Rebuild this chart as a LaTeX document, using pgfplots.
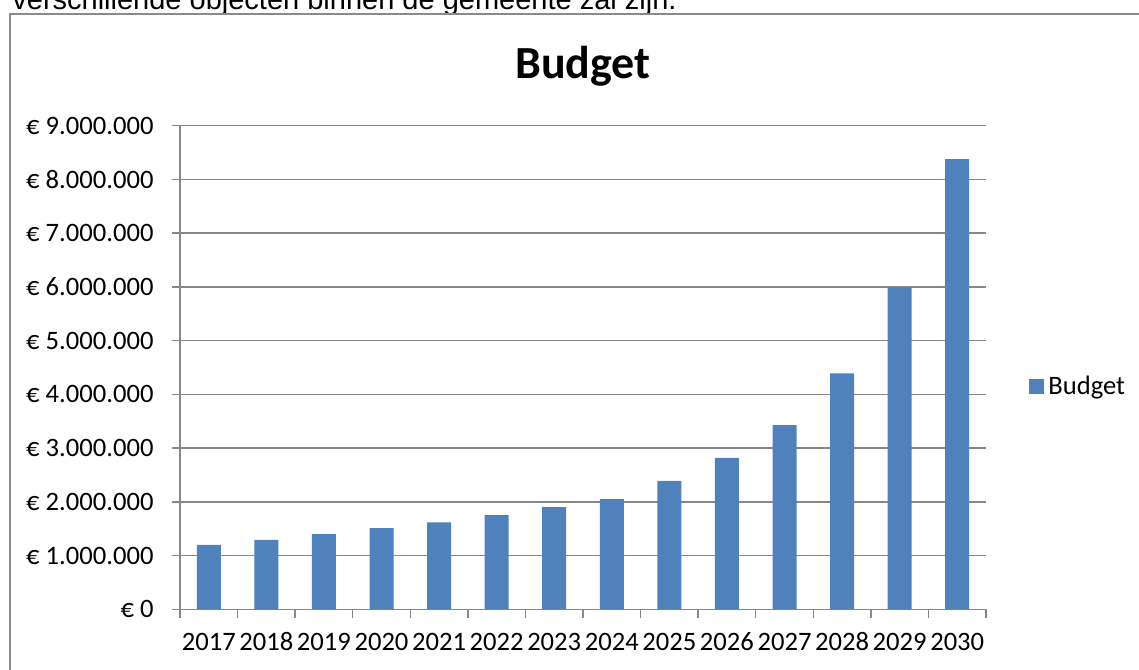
\documentclass[border=0pt]{standalone}
\usepackage{pgfplots}
\pgfplotsset{compat=1.18}
\usepackage{fontspec}
\setmainfont{Carlito}
\newfontfamily\arialfont{Liberation Sans}
\definecolor{barblue}{HTML}{4F81BD}
\definecolor{gridgray}{HTML}{878787}
\definecolor{boxgray}{HTML}{8A8A8A}
\begin{document}
\begin{tikzpicture}
\useasboundingbox (0,0) rectangle (569.5pt,-334.5pt);
\node[anchor=base west, inner sep=0pt, font=\arialfont\fontsize{14.5}{16}\selectfont] at (6pt,-4.6pt) {verschillende objecten binnen de gemeente zal zijn.};
\draw[boxgray, line width=0.75pt] (5pt,-400pt) -- (5pt,-7pt) -- (600pt,-7pt);
\node[anchor=base, inner sep=0pt, font=\bfseries\fontsize{23}{26}\selectfont] at (291.5pt,-39.2pt) {Budget};
\begin{axis}[
  at={(90pt,-304.65pt)}, anchor=south west,
  width=403pt, height=241.8pt, scale only axis,
  xmin=-0.5, xmax=13.5, ymin=0, ymax=9000000,
  axis x line*=bottom, axis y line*=left,
  axis line style={gridgray, line width=0.75pt, -},
  ytick={0,1000000,2000000,3000000,4000000,5000000,6000000,7000000,8000000,9000000},
  yticklabels={€ 0, € 1.000.000, € 2.000.000, € 3.000.000, € 4.000.000, € 5.000.000, € 6.000.000, € 7.000.000, € 8.000.000, € 9.000.000},
  scaled y ticks=false,
  yticklabel style={xshift=-5.5pt},
  ymajorgrids, major grid style={gridgray, line width=0.75pt},
  xtick={-0.5,0.5,1.5,2.5,3.5,4.5,5.5,6.5,7.5,8.5,9.5,10.5,11.5,12.5,13.5},
  xticklabels={},
  extra x ticks={0,1,2,3,4,5,6,7,8,9,10,11,12,13},
  extra x tick labels={2017,2018,2019,2020,2021,2022,2023,2024,2025,2026,2027,2028,2029,2030},
  extra x tick style={major tick length=0pt, xmajorgrids=false, tick label style={anchor=base, yshift=-20.8pt}},
  tick align=outside,
  major tick length=4.2pt,
  tick style={gridgray, line width=0.75pt},
  ticklabel style={font=\fontsize{13.3}{15}\selectfont},
  legend style={at={(rel axis cs:1.0533,0.46)}, anchor=west, draw=none, fill=none, inner sep=0pt, font=\fontsize{13.3}{15}\selectfont},
  ybar, bar width=12pt,
]
\addplot[fill=barblue, draw=none, legend image code/.code={\fill[barblue] (0pt,-3.75pt) rectangle (7.5pt,3.75pt);}] coordinates {
(0,1200000) (1,1290000) (2,1400000) (3,1510000) (4,1620000) (5,1755000) (6,1900000)
(7,2050000) (8,2390000) (9,2820000) (10,3430000) (11,4390000) (12,5990000) (13,8380000)};
\addlegendentry{Budget}
\end{axis}
\end{tikzpicture}
\end{document}
